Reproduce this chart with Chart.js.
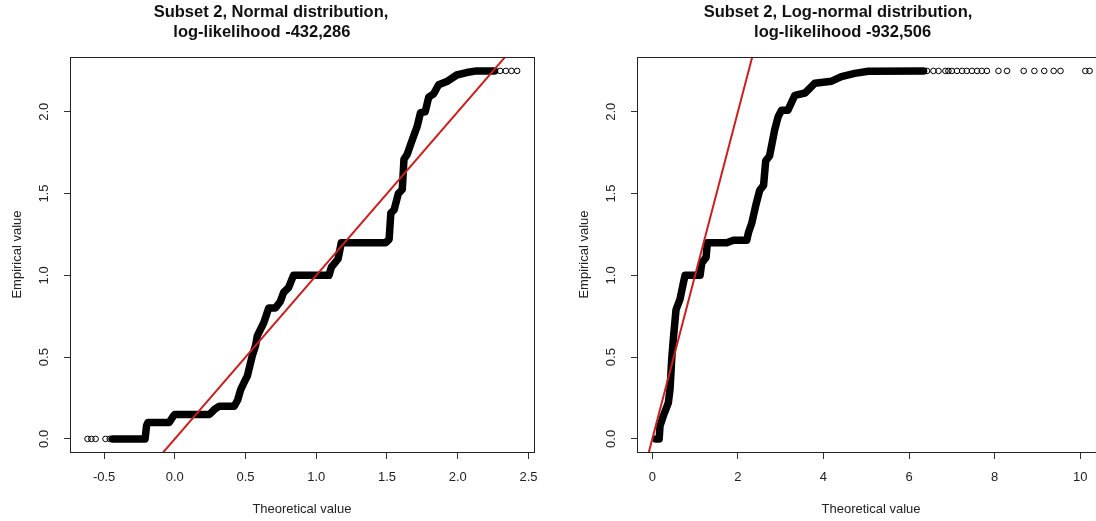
<!DOCTYPE html>
<html>
<head>
<meta charset="utf-8">
<script src="https://cdn.jsdelivr.net/npm/chart.js@4.4.1/dist/chart.umd.min.js"></script>
<style>
  html, body { margin: 0; padding: 0; background: #fff; overflow: hidden; }
  body { width: 1096px; height: 521px; position: relative; }
  canvas { position: absolute; top: 0; }
  #normalCanvas { left: 0; }
  #lognormCanvas { left: 567px; }
</style>
</head>
<body>
<canvas id="normalCanvas" width="548" height="521"></canvas>
<canvas id="lognormCanvas" width="548" height="521"></canvas>
<script>
// Q-Q plots for subset 2: empirical values against theoretical quantiles

// normal fit - the dense run of points, traced along its middle
var normX = [-0.44, -0.21, -0.2, -0.19, -0.04, -0.01, 0.0, 0.245, 0.28, 0.315, 0.42, 0.445, 0.465, 0.49, 0.513,
  0.548, 0.571, 0.583, 0.629, 0.664, 0.711, 0.746, 0.769, 0.804, 0.839, 1.09, 1.107, 1.154, 1.177, 1.49,
  1.515, 1.527, 1.55, 1.58, 1.608, 1.62, 1.643, 1.667, 1.713, 1.737, 1.77, 1.795, 1.83, 1.865, 1.923,
  1.993, 2.063, 2.133, 2.26];
var normY = [0, 0, 0.08, 0.1, 0.1, 0.14, 0.15, 0.15, 0.18, 0.2, 0.2, 0.24, 0.3, 0.345, 0.385,
  0.51, 0.57, 0.63, 0.71, 0.8, 0.8, 0.84, 0.895, 0.925, 1.0, 1.0, 1.05, 1.1, 1.2, 1.2,
  1.22, 1.38, 1.4, 1.5, 1.525, 1.71, 1.74, 1.8, 1.91, 1.995, 2.0, 2.09, 2.11, 2.165, 2.185,
  2.225, 2.24, 2.25, 2.25];
// normal fit - loose points at both ends
var normTailX = [-0.617, -0.59, -0.56, -0.49, -0.46, 2.30, 2.34, 2.38, 2.42];
var normTailY = [0, 0, 0, 0, 0, 2.25, 2.25, 2.25, 2.25];

// log-normal fit
var lognX = [0.08, 0.16, 0.18, 0.257, 0.374, 0.414, 0.454, 0.491, 0.554, 0.648, 0.711, 0.765, 1.116,
  1.155, 1.256, 1.287, 1.74, 1.895, 2.208, 2.246, 2.325, 2.42, 2.51, 2.6, 2.65, 2.74, 2.86, 2.94,
  3.02, 3.17, 3.33, 3.57, 3.8, 4.19, 4.42, 4.73, 5.05, 6.34];
var lognY = [0, 0, 0.08, 0.14, 0.22, 0.305, 0.49, 0.61, 0.79, 0.855, 0.935, 1.0, 1.0,
  1.075, 1.11, 1.2, 1.2, 1.215, 1.215, 1.26, 1.32, 1.43, 1.52, 1.55, 1.7, 1.73, 1.89, 1.97,
  2.01, 2.01, 2.1, 2.115, 2.175, 2.187, 2.215, 2.235, 2.248, 2.25];
var lognTailX = [6.42, 6.57, 6.69, 6.85, 6.92, 7.0, 7.12, 7.24, 7.35, 7.47, 7.59, 7.7, 7.82,
  8.09, 8.29, 8.68, 8.93, 9.16, 9.38, 9.54, 10.12, 10.22];
var lognTailY = [2.25, 2.25, 2.25, 2.25, 2.25, 2.25, 2.25, 2.25, 2.25, 2.25, 2.25, 2.25, 2.25,
  2.25, 2.25, 2.25, 2.25, 2.25, 2.25, 2.25, 2.25, 2.25];

// reference line y = x
var refLine = [-1, 11];

// axes
var yTicks = [0, 0.5, 1, 1.5, 2];
var normXTicks = [-0.5, 0, 0.5, 1, 1.5, 2, 2.5];
var lognXTicks = [0, 2, 4, 6, 8, 10];
var yLimits = [-0.08, 2.335];
var normXLimits = [-0.741, 2.538];
var lognXLimits = [-0.358, 10.58];

var FONT = "'Liberation Sans', Arial, sans-serif";
Chart.defaults.font.family = FONT;
Chart.defaults.color = '#222';

function pts(xs, ys) {
  return xs.map(function(x, i) { return {x: x, y: ys[i]}; });
}

// R-style box round the plot region
var plotBox = {
  id: 'plotBox',
  afterDraw: function(chart) {
    var a = chart.chartArea, ctx = chart.ctx;
    ctx.save();
    ctx.strokeStyle = '#222';
    ctx.lineWidth = 1;
    ctx.strokeRect(Math.round(a.left) + 0.5, Math.round(a.top) + 0.5,
      Math.round(a.right - a.left), Math.round(a.bottom - a.top));
    ctx.restore();
  }
};

// y tick labels written along the axis, like las=0
var yTickLabels = {
  id: 'yTickLabels',
  afterDraw: function(chart) {
    var ctx = chart.ctx, sc = chart.scales.y;
    ctx.save();
    ctx.font = '13px ' + FONT;
    ctx.fillStyle = '#222';
    ctx.textAlign = 'center';
    ctx.textBaseline = 'middle';
    sc.ticks.forEach(function(t) {
      ctx.save();
      ctx.translate(chart.chartArea.left - 26, sc.getPixelForValue(t.value));
      ctx.rotate(-Math.PI / 2);
      ctx.fillText(t.value.toFixed(1), 0, 0);
      ctx.restore();
    });
    ctx.restore();
  }
};

function qqChart(id, title, bodyX, bodyY, tailX, tailY, xTicks, xLimits, xFmt) {
  return new Chart(document.getElementById(id), {
    type: 'scatter',
    data: {
      datasets: [
        {
          data: pts(refLine, refLine),
          showLine: true,
          borderColor: '#C8201E',
          borderWidth: 2,
          pointRadius: 0,
          clip: 0
        },
        {
          data: pts(bodyX, bodyY),
          showLine: true,
          borderColor: '#000',
          borderWidth: 7.5,
          borderJoinStyle: 'round',
          borderCapStyle: 'round',
          tension: 0,
          pointRadius: 0
        },
        {
          data: pts(tailX, tailY),
          showLine: false,
          pointStyle: 'circle',
          pointRadius: 2.8,
          pointBorderWidth: 1,
          pointBorderColor: '#000',
          pointBackgroundColor: 'rgba(0,0,0,0)'
        }
      ]
    },
    options: {
      responsive: false,
      animation: false,
      events: [],
      layout: { padding: { left: 4, right: 10, top: 0, bottom: 0 }, autoPadding: false },
      plugins: {
        legend: { display: false },
        tooltip: { enabled: false },
        title: {
          display: true,
          text: title,
          color: '#111',
          font: { size: 16.5, weight: 'bold', lineHeight: 1.176 },
          padding: { top: 2.9, bottom: 15.3 }
        }
      },
      scales: {
        x: {
          type: 'linear',
          min: xLimits[0],
          max: xLimits[1],
          afterBuildTicks: function(s) { s.ticks = xTicks.map(function(v) { return {value: v}; }); },
          afterFit: function(s) { s.height = 69; },
          grid: { drawOnChartArea: false, drawTicks: true, tickLength: 7, color: '#333', lineWidth: 1 },
          border: { display: false },
          ticks: { padding: 10.4, font: { size: 13 }, color: '#222', maxRotation: 0, autoSkip: false, callback: xFmt },
          title: { display: true, text: 'Theoretical value', font: { size: 13 }, color: '#222', padding: { top: 0, bottom: 3.7 } }
        },
        y: {
          type: 'linear',
          min: yLimits[0],
          max: yLimits[1],
          afterBuildTicks: function(s) { s.ticks = yTicks.map(function(v) { return {value: v}; }); },
          afterFit: function(s) { s.width = 66; },
          grid: { drawOnChartArea: false, drawTicks: true, tickLength: 6, color: '#333', lineWidth: 1 },
          border: { display: false },
          ticks: { display: false, autoSkip: false },
          title: { display: true, text: 'Empirical value', font: { size: 13 }, color: '#222', padding: { top: 5.2, bottom: 0 } }
        }
      }
    },
    plugins: [plotBox, yTickLabels]
  });
}

qqChart('normalCanvas',
  ['Subset 2, Normal distribution,', 'log-likelihood -432,286    '],
  normX, normY, normTailX, normTailY, normXTicks, normXLimits,
  function(v) { return v.toFixed(1); });

qqChart('lognormCanvas',
  ['Subset 2, Log-normal distribution,', '  log-likelihood -932,506'],
  lognX, lognY, lognTailX, lognTailY, lognXTicks, lognXLimits,
  function(v) { return String(v); });
</script>
</body>
</html>
